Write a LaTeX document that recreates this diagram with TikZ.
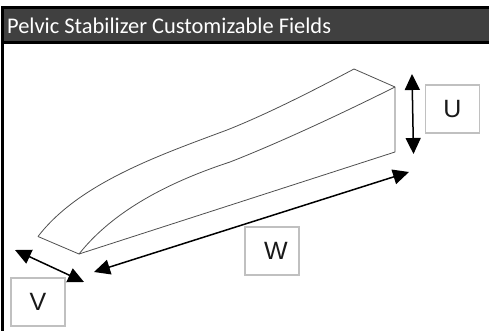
\documentclass[tikz,border=0pt]{standalone}
\usepackage{fontspec}
\setmainfont{Liberation Sans}
\newfontfamily\titlefont{Carlito}
\usetikzlibrary{arrows.meta}
\definecolor{barcol}{HTML}{404040}
\definecolor{boxcol}{HTML}{C0C0C0}
\definecolor{edgecol}{HTML}{505050}
\tikzset{
  labelbox/.style={draw=boxcol,line width=1.4pt,fill=white,minimum width=54pt,minimum height=48pt,inner sep=0pt,font=\fontsize{25}{28}\selectfont,text=black!90},
  dimarrow/.style={line width=1.5pt,black,{Triangle[length=16pt,width=15pt]}-{Triangle[length=16pt,width=15pt]},shorten <=0pt,shorten >=0pt},
  edgeline/.style={edgecol,line width=0.8pt}
}
\begin{document}
\begin{tikzpicture}[x=1pt,y=-1pt]
\useasboundingbox (0,0) rectangle (489,331);
\fill[white] (0,0) rectangle (489,331);
% frame and title bar
\fill[black] (1,6) rectangle (489,44);
\fill[black] (1,6) rectangle (4,331);
\fill[barcol] (4,9) rectangle (489,41);
\node[anchor=base west,inner sep=0pt,text=white,font=\titlefont\fontsize{22.4}{24}\selectfont] (title) at (7,34) {Pelvic Stabilizer Customizable Fields};
% wedge
\coordinate (tipA) at (38,236.5);
\coordinate (tipB) at (79,254);
\coordinate (topA) at (354,69);
\coordinate (topB) at (395,87);
\coordinate (botB) at (395,152);
\draw[edgeline,line join=round] (tipA) -- (tipB) -- (botB) -- (topB) -- (topA);
\draw[edgeline] (tipA) .. controls (79,183) and (160,155) .. (227,130)
  .. controls (270,113) and (320,87) .. (topA);
\draw[edgeline] (tipB) .. controls (110,215) and (160,185) .. (230,162)
  .. controls (280,142.5) and (345,112) .. (topB);
% dimension arrows
\coordinate (uA) at (412,74);
\coordinate (uB) at (413.5,154);
\coordinate (vA) at (15,250);
\coordinate (vB) at (84,282);
\coordinate (wA) at (94,272);
\coordinate (wB) at (409,172);
\draw[dimarrow] (uA) -- (uB);
\draw[dimarrow] (vA) -- (vB);
\draw[dimarrow] (wA) -- (wB);
% labels
\node[labelbox] (U) at (452.5,109) {\raisebox{-3pt}{U}};
\node[labelbox] (V) at (38,302) {\raisebox{-3pt}{V}};
\node[labelbox] (W) at (272,251) {\hspace*{8pt}\raisebox{-3pt}{W}};
\end{tikzpicture}
\end{document}
